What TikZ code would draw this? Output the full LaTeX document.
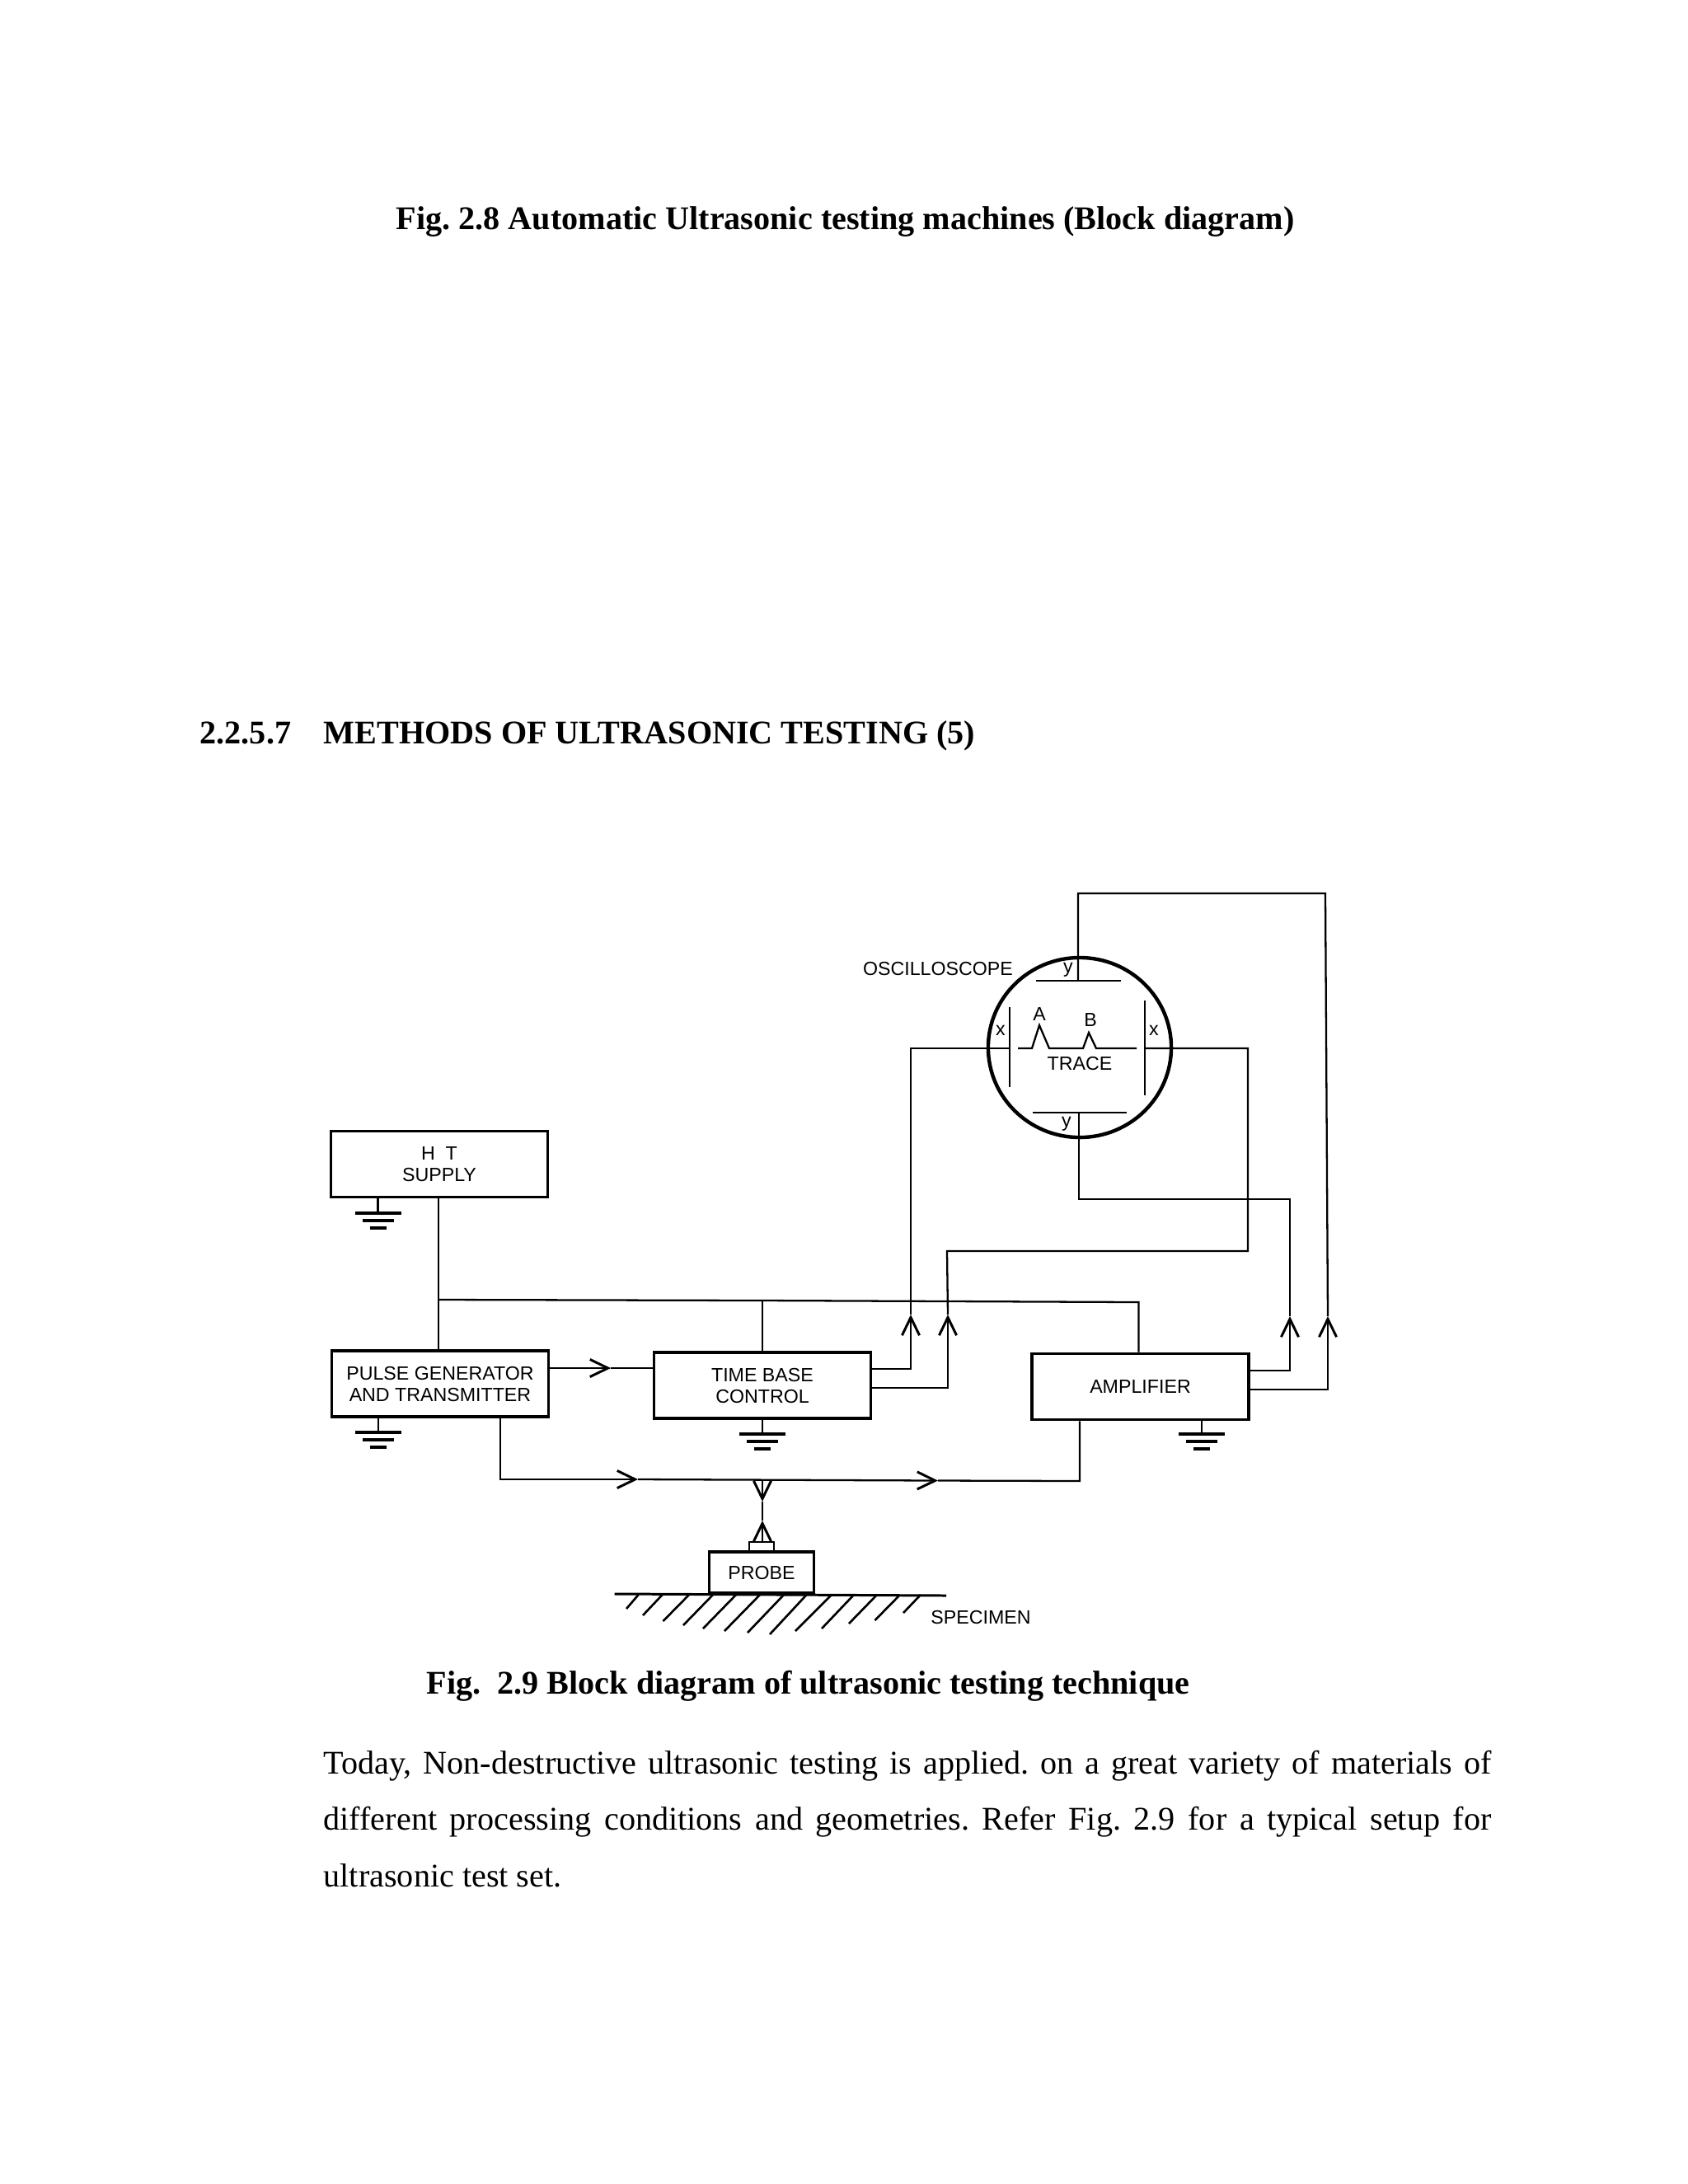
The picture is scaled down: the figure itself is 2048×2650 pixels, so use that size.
\documentclass[tikz,border=0pt]{standalone}
\usepackage{fontspec}
\setmainfont{Liberation Serif}
\newfontfamily\lblfont{Liberation Sans}
\usetikzlibrary{arrows.meta, positioning, calc, shapes.geometric}
\frenchspacing

\begin{document}
\begin{tikzpicture}[
    x=0.01cm, y=-0.01cm,
    block/.style={rectangle, draw, line width=1.05pt, minimum width=2.63cm, minimum height=0.8cm, inner sep=0pt, align=center, font=\lblfont\fontsize{6.6}{7.4}\selectfont},
    lbl/.style={inner sep=0pt, font=\lblfont\fontsize{6.6}{8}\selectfont},
    page/.style={inner sep=0pt, anchor=base west, font=\fontsize{11.42}{13}\selectfont},
    pagebf/.style={page, font=\fontsize{11.42}{13}\selectfont\bfseries},
    wire/.style={line width=0.65pt},
    plate/.style={line width=0.8pt},
    arr/.style={wire, -{Straight Barb[length=6.2pt, width=6pt, line width=0.85pt]}},
    gnd/.pic={
        \draw[line width=1.05pt] (-28,0) -- (28,0);
        \draw[line width=1.05pt] (-19,9) -- (19,9);
        \draw[line width=1.05pt] (-10,18) -- (10,18);
    },
]
\useasboundingbox (0,0) rectangle (2048,2650);

\node[pagebf] (figone) at (480,278) {Fig. 2.8 Automatic Ultrasonic testing machines (Block diagram)};
\node[pagebf] (secnum) at (242,902) {2.2.5.7};
\node[pagebf] (sectitle) at (392,902) {METHODS OF ULTRASONIC TESTING (5)};
\node[pagebf] (figtwo) at (517,2055) {Fig.\ \ 2.9 Block diagram of ultrasonic testing technique};
\node[inner sep=0pt, anchor=north west, text width=14.16cm, align=justify, font=\fontsize{11.42}{19.6}\selectfont] (para) at (392,2123)
    {Today, Non-destructive ultrasonic testing is applied. on a great variety of materials of\linebreak different processing conditions and geometries. Refer Fig. 2.9 for a typical setup for\linebreak ultrasonic test set.};

\node[block] (htsup) at (533,1412.5) {H\ \ T\hspace{4pt}\\SUPPLY\hspace{4pt}};
\node[block] (pulse) at (534,1679) {PULSE GENERATOR\\AND TRANSMITTER};
\node[block] (tbase) at (925,1681) {TIME BASE\\CONTROL};
\node[block] (amp) at (1383.5,1682.5) {AMPLIFIER};
\node[block, minimum width=1.27cm, minimum height=0.5cm] (probe) at (924,1908) {PROBE};
\node[draw, line width=0.8pt, inner sep=0pt, minimum width=0.3cm, minimum height=0.12cm] (nub) at (924,1877) {};
\node[ellipse, draw, line width=1.25pt, inner sep=0pt, minimum width=2.22cm, minimum height=2.18cm] (scope) at (1310,1271) {};

\node[lbl] (scopelbl) at (1138,1175) {OSCILLOSCOPE};
\node[lbl] (tracelbl) at (1310,1290) {TRACE};
\node[lbl] (alab) at (1261,1230) {A};
\node[lbl] (blab) at (1323,1237) {B};
\node[lbl] (xl) at (1214,1250) {x};
\node[lbl] (xr) at (1400,1250) {x};
\node[lbl] (yt) at (1296,1177) {y};
\node[lbl] (yb) at (1294,1364) {y};
\node[lbl] (speclbl) at (1190,1962) {SPECIMEN};

\coordinate (ytop) at (1308,1190);
\coordinate (ybot) at (1309,1350);
\coordinate (xleft) at (1225,1272);
\coordinate (xright) at (1389,1272);
\draw[plate] (1257,1190) -- (1360,1190);
\draw[plate] (1253,1350) -- (1367,1350);
\draw[plate] (1225,1222) -- (1225,1319);
\draw[plate] (1389,1214) -- (1389,1329);
\draw[wire] (1235,1272) -- (1252,1272) -- (1261,1244) -- (1273,1272) -- (1314,1272) -- (1321,1253) -- (1330,1272) -- (1379,1272);

\coordinate (busl) at (532,1577);
\coordinate (busm) at (925,1578);
\coordinate (busr) at (1381.5,1580);
\draw[wire] (htsup.south -| busl) -- (pulse.north -| busl);
\draw[wire] (busl) -- (busm) -- (busr) -- (amp.north -| busr);
\draw[wire] (busm) -- (tbase.north -| busm);

\foreach \n/\b/\px/\py in {gndht/htsup/458.5/1472, gndpu/pulse/459/1738, gndtb/tbase/925/1740, gndam/amp/1458/1740} {
    \coordinate (\n) at (\px,\py);
    \draw[wire] (\b.south -| \n) -- (\n);
    \pic at (\n) {gnd};
}

\coordinate (tipa) at (741,1660);
\draw[arr] (pulse.east |- tipa) -- (tipa);
\draw[wire] (tipa) -- (tbase.west |- tipa);

\coordinate (tipb) at (1105,1595);
\coordinate (tipc) at (1150,1595);
\coordinate (tipd) at (1565,1597);
\coordinate (tipe) at (1611,1597);
\draw[arr] (tbase.east |- 0,1661) -| (tipb);
\draw[arr] (tbase.east |- 0,1684) -| (tipc);
\draw[arr] (amp.east |- 0,1663) -| (tipd);
\draw[arr] (amp.east |- 0,1686) -| (tipe);
\draw[wire] (tipb) |- (xleft);
\draw[wire] (tipc) -- (1149,1518) -- (1514,1518) -- (1514,1272) -- (xright);
\draw[wire] (tipd) |- (1309,1455) -- (ybot);
\draw[wire] (tipe) -- (1608,1084) -- (1308,1084) -- (ytop);

\coordinate (tipf) at (774,1795);
\coordinate (tipg) at (1138,1796.5);
\coordinate (tiph) at (925,1822);
\coordinate (tipi) at (925,1845);
\draw[arr] (pulse.south -| 607,0) |- (tipf);
\draw[arr] (tipf) -- (tipg);
\draw[wire] (tipg) -- (1310,1797) -- (amp.south -| 1310,0);
\draw[arr] (925,1795) -- (tiph);
\draw[wire] (tiph) -- (tipi);
\draw[arr] (nub.north -| tipi) -- (tipi);

\draw[line width=0.85pt] (745.6,1934) -- (1148,1936);
\foreach \a/\b/\c in {774.6/760/1952, 803.6/780/1960, 836/804.5/1967, 865/829/1972, 893/853/1976, 922/879/1979, 951/907/1981, 978.6/934/1983, 1009/965/1979, 1036/997/1976, 1064/1030/1970, 1092/1061.5/1966, 1117/1096/1957}
    \draw[line width=0.75pt] (\a,1935) -- (\b,\c);

\end{tikzpicture}
\end{document}
